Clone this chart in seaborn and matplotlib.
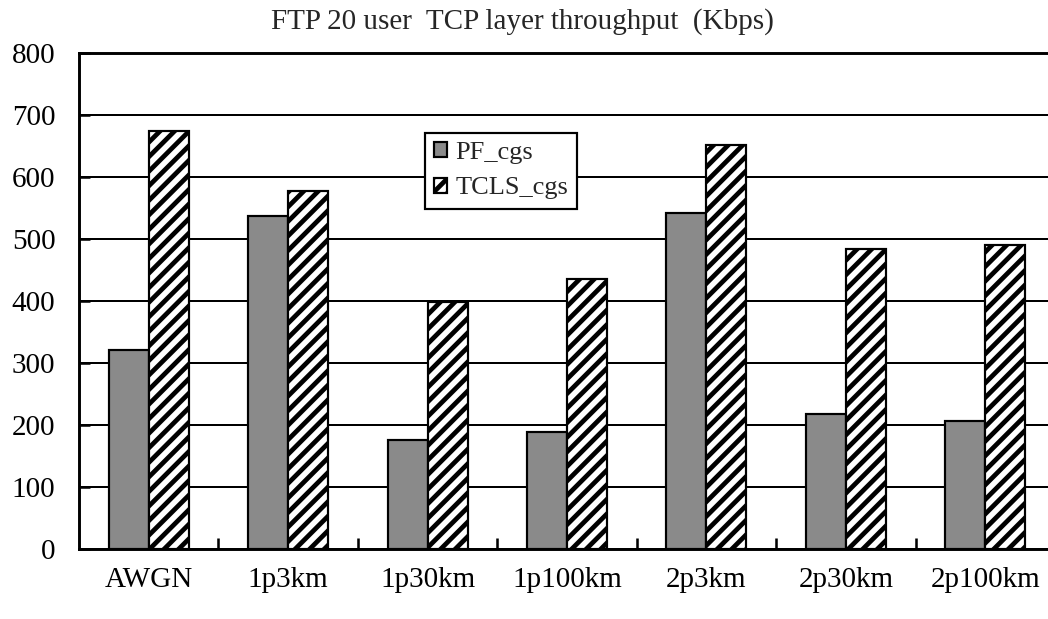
import matplotlib
matplotlib.use("Agg")
import matplotlib.pyplot as plt
import seaborn as sns
import pandas as pd
from matplotlib.ticker import FixedLocator, MultipleLocator

categories = ["AWGN", "1p3km", "1p30km", "1p100km", "2p3km", "2p30km", "2p100km"]
pf_cgs = [321, 538, 176, 189, 542, 219, 207]
tcls_cgs = [674, 578, 399, 436, 652, 484, 490]
series_names = ["PF_cgs", "TCLS_cgs"]
title = "FTP 20 user  TCP layer throughput  (Kbps)"

df = pd.DataFrame({
    "category": categories * 2,
    "series": [series_names[0]] * len(categories) + [series_names[1]] * len(categories),
    "value": pf_cgs + tcls_cgs,
})

sns.set_style("white")
plt.rcParams["font.family"] = ["Liberation Serif", "DejaVu Serif"]
plt.rcParams["hatch.color"] = "black"
plt.rcParams["hatch.linewidth"] = 2.6

DPI = 131
fig = plt.figure(figsize=(1048 / DPI, 619 / DPI), dpi=DPI)
ax = fig.add_axes([79 / 1048, 69.7 / 619, 976 / 1048, 496 / 619])

sns.barplot(data=df, x="category", y="value", hue="series", order=categories,
            hue_order=series_names, palette={"PF_cgs": "#8a8a8a", "TCLS_cgs": "white"},
            width=0.574, gap=0, dodge=True, edgecolor="black", linewidth=1.2,
            saturation=1, legend=False, ax=ax, zorder=3)

for bar in ax.containers[1]:
    bar.set_hatch("///")
for cont in ax.containers:
    for bar in cont:
        bar.set_edgecolor("black")

ax.set_xlim(-0.5, len(categories) - 0.5)
ax.set_ylim(0, 800)
ax.yaxis.set_major_locator(MultipleLocator(100))
ax.yaxis.grid(True, color="black", linewidth=1.1)
ax.xaxis.grid(False)
ax.set_axisbelow(True)

for side in ["left", "bottom", "top", "right"]:
    ax.spines[side].set_visible(True)
    ax.spines[side].set_color("black")
    ax.spines[side].set_linewidth(1.6)

ax.set_xlabel("")
ax.set_ylabel("")
ax.tick_params(axis="y", direction="in", length=6, width=1.4, pad=13, labelsize=16,
               colors="black", left=True)
ax.tick_params(axis="x", which="major", length=0, pad=10, labelsize=16, colors="black")
ax.xaxis.set_minor_locator(FixedLocator([i + 0.5 for i in range(len(categories) - 1)]))
ax.tick_params(axis="x", which="minor", direction="in", length=6, width=1.4,
               bottom=True, colors="black")

leg = ax.legend(ax.containers, series_names, loc="upper left",
                bbox_to_anchor=((425 - 79) / 976, (549.3 - 133) / 496),
                fontsize=14.5, handlelength=0.5, handleheight=0.5, handletextpad=0.3,
                labelspacing=0.5, borderpad=0.35, borderaxespad=0, fancybox=False,
                frameon=True, edgecolor="black", framealpha=1)
leg.get_frame().set_linewidth(1.2)
leg.set_zorder(5)

fig.text(522 / 1048, 1 - 22 / 619, title, ha="center", va="center", fontsize=16)

fig.savefig("out.png", dpi=DPI)
